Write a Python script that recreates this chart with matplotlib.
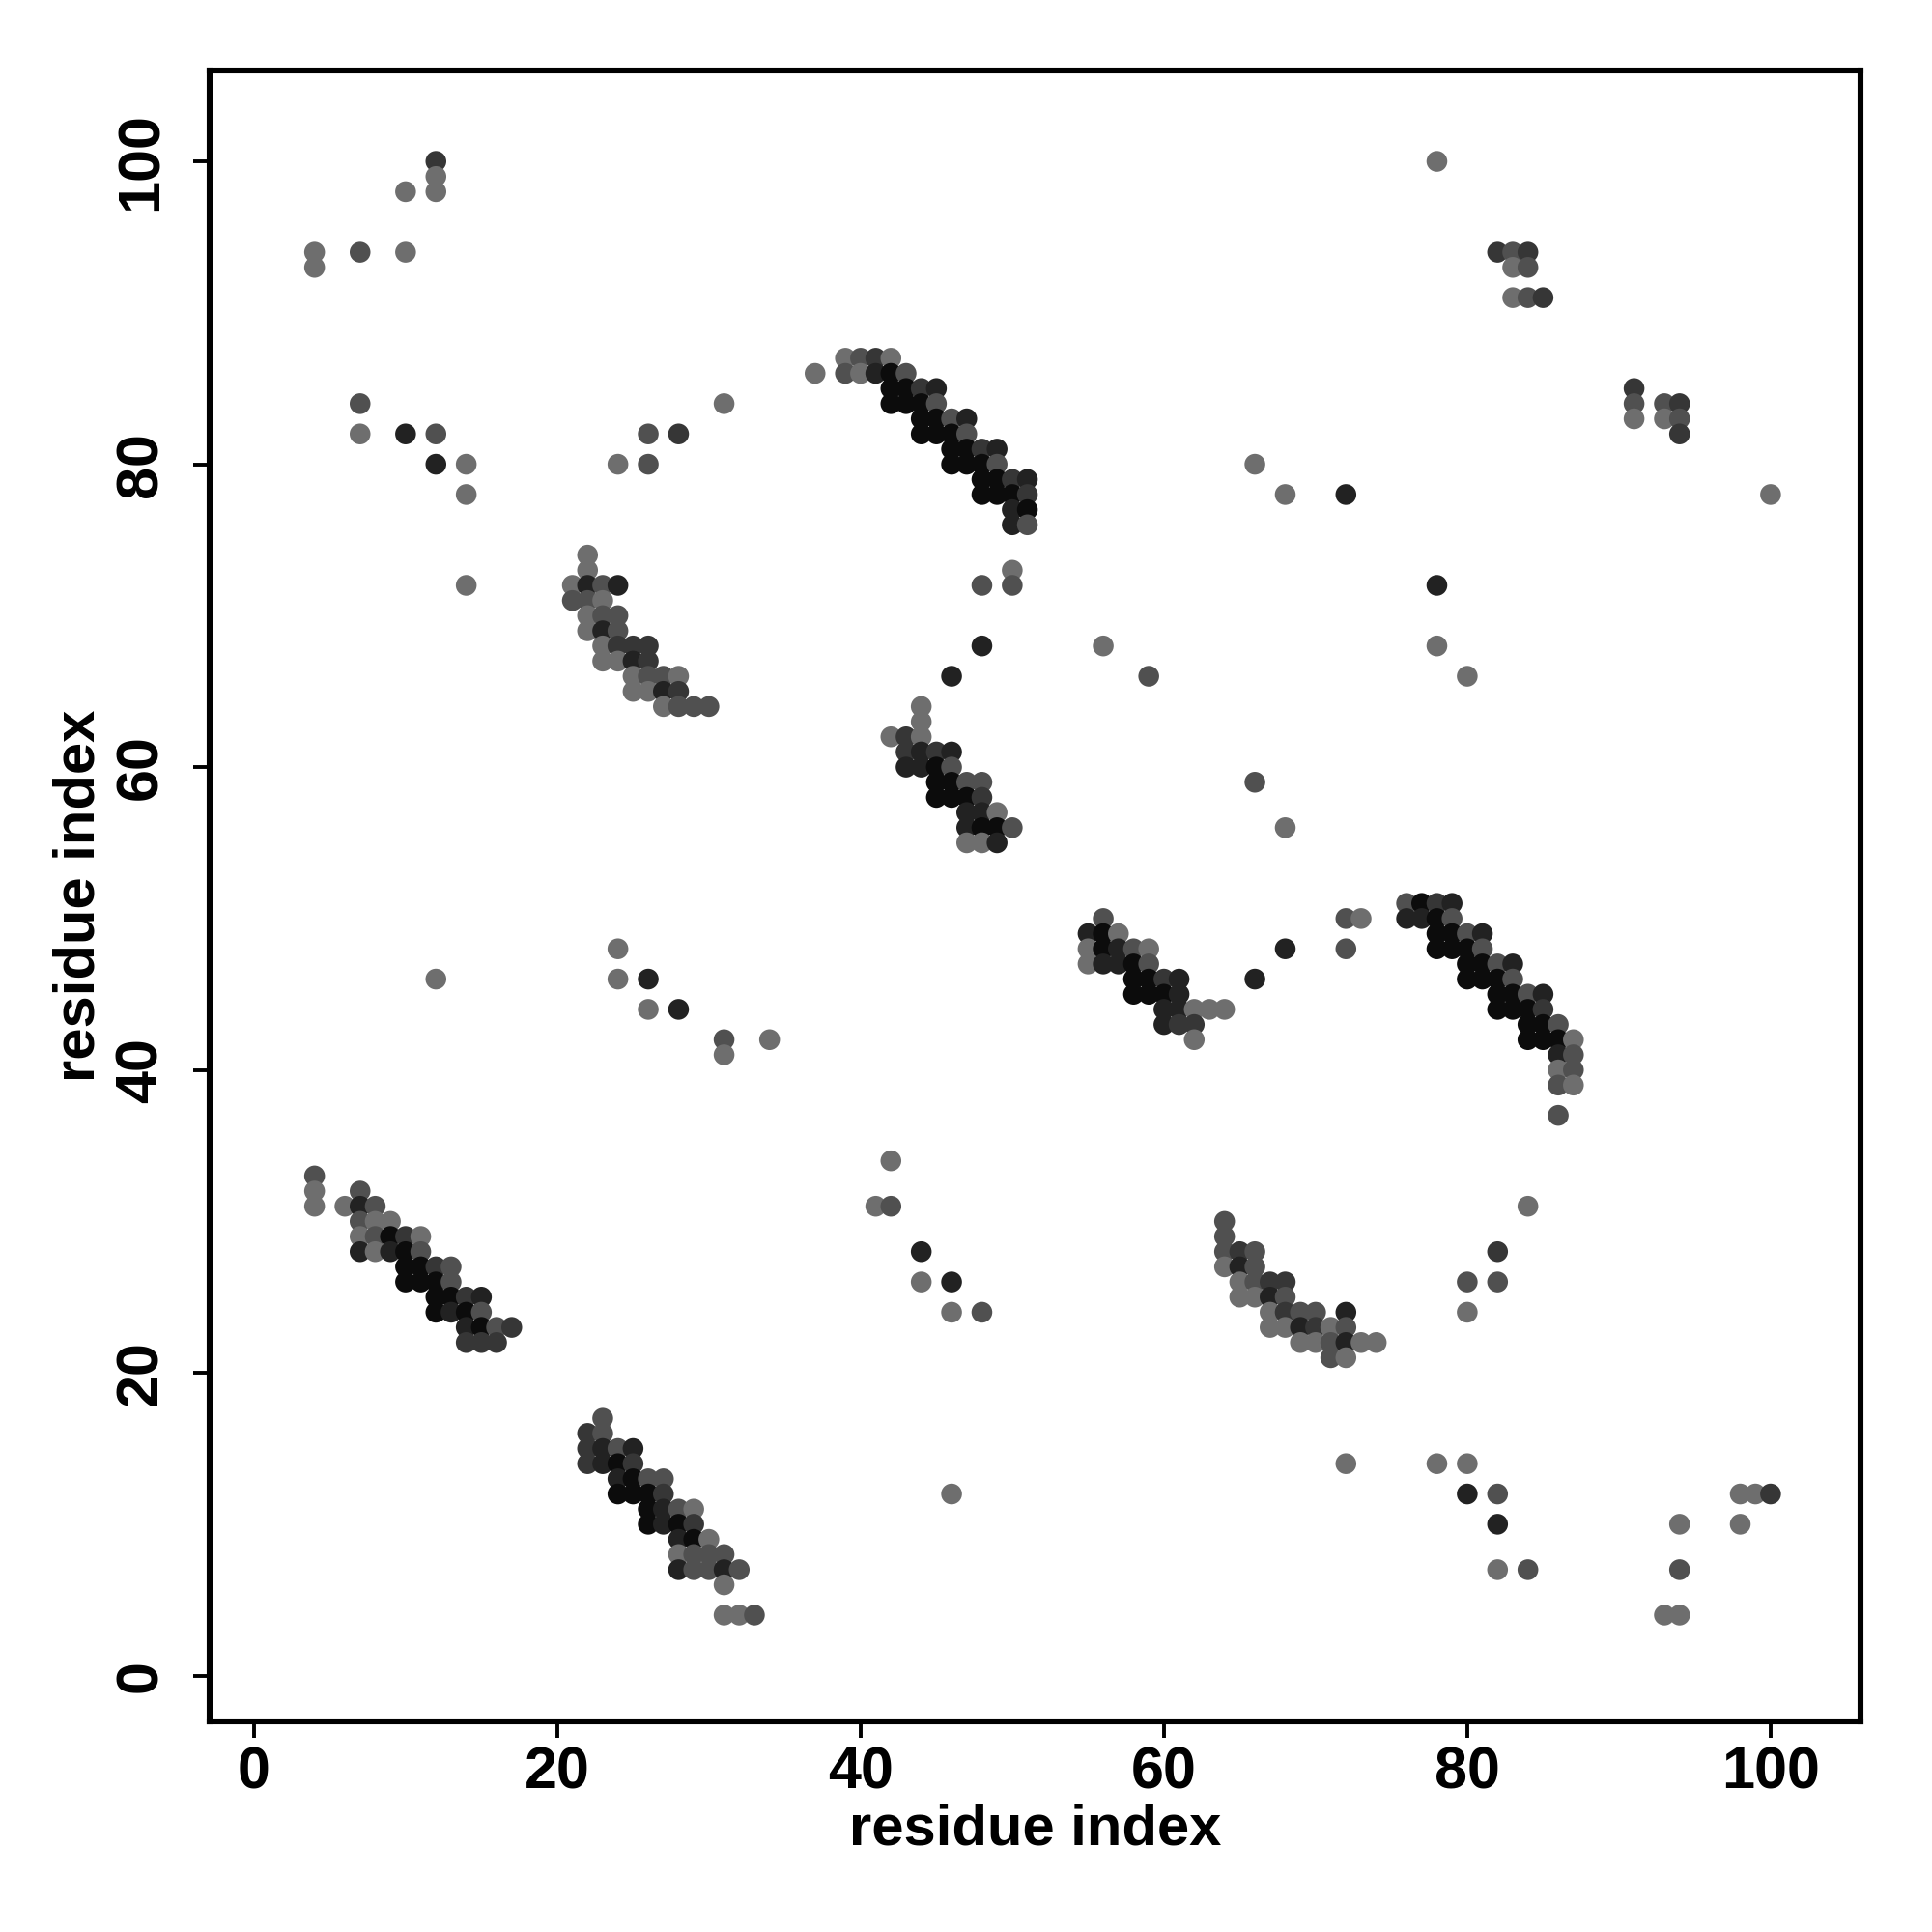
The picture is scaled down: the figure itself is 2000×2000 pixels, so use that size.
import matplotlib
matplotlib.use("Agg")
import matplotlib.pyplot as plt
import numpy as np

# contact map: (residue i, residue j, contact strength 1..5)
scatter_top_left = [
    (4, 94, 1), (4, 93, 1), (7, 94, 2), (10, 98, 1), (10, 94, 1), (12, 100, 3),
    (12, 99, 1), (12, 98, 1), (7, 84, 2), (7, 82, 1), (10, 82, 4), (12, 82, 2),
    (12, 80, 4), (14, 80, 1), (14, 78, 1), (14, 72, 1), (24, 80, 1), (26, 80, 2),
    (26, 82, 2), (28, 82, 3), (31, 84, 1),
]

sheet_a = [
    (39, 87, 1), (40, 87, 2), (41, 87, 3), (42, 87, 1),
    (37, 86, 1), (39, 86, 2), (40, 86, 1), (41, 86, 4), (42, 86, 5), (43, 86, 2),
    (42, 85, 5), (43, 85, 5), (44, 85, 3), (45, 85, 4),
    (42, 84, 5), (43, 84, 5), (44, 84, 5), (45, 84, 2),
    (44, 83, 5), (45, 83, 5), (46, 83, 2), (47, 83, 4),
    (44, 82, 5), (45, 82, 5), (46, 82, 5), (47, 82, 2),
    (46, 81, 5), (47, 81, 5), (48, 81, 3), (49, 81, 4),
    (46, 80, 5), (47, 80, 5), (48, 80, 5), (49, 80, 2),
    (48, 79, 5), (49, 79, 5), (50, 79, 3), (51, 79, 4),
    (48, 78, 5), (49, 78, 5), (50, 78, 5), (51, 78, 3),
    (50, 77, 4), (51, 77, 5), (50, 76, 4), (51, 76, 2),
    (50, 73, 1), (50, 72, 2), (48, 72, 2), (48, 68, 4), (46, 66, 4),
    (56, 68, 1), (59, 66, 2),
]

sheet_b = [
    (22, 74, 1), (22, 73, 1),
    (21, 72, 1), (22, 72, 4), (23, 72, 2), (24, 72, 4),
    (21, 71, 2), (22, 71, 2), (23, 71, 1),
    (22, 70, 1), (23, 70, 2), (24, 70, 2),
    (22, 69, 1), (23, 69, 4), (24, 69, 2),
    (23, 68, 1), (24, 68, 3), (25, 68, 3), (26, 68, 3),
    (23, 67, 1), (24, 67, 1), (25, 67, 4), (26, 67, 3),
    (25, 66, 1), (26, 66, 2), (27, 66, 2), (28, 66, 1),
    (25, 65, 1), (26, 65, 1), (27, 65, 4), (28, 65, 3),
    (27, 64, 1), (28, 64, 2), (29, 64, 2), (30, 64, 2),
]

sheet_c = [
    (44, 64, 1), (44, 63, 1),
    (42, 62, 1), (43, 62, 3), (44, 62, 1),
    (43, 61, 3), (44, 61, 4), (45, 61, 3), (46, 61, 4),
    (43, 60, 4), (44, 60, 4), (45, 60, 5), (46, 60, 2),
    (45, 59, 5), (46, 59, 5), (47, 59, 2), (48, 59, 2),
    (45, 58, 5), (46, 58, 5), (47, 58, 5), (48, 58, 3),
    (47, 57, 4), (48, 57, 4), (49, 57, 1),
    (47, 56, 4), (48, 56, 5), (49, 56, 5), (50, 56, 2),
    (47, 55, 1), (48, 55, 1), (49, 55, 4),
    (66, 59, 2), (68, 56, 1),
]

sheet_d = [
    (56, 50, 2),
    (55, 49, 4), (56, 49, 5), (57, 49, 1),
    (55, 48, 1), (56, 48, 5), (57, 48, 4), (58, 48, 2), (59, 48, 1),
    (55, 47, 1), (56, 47, 4), (57, 47, 4), (58, 47, 5), (59, 47, 2),
    (58, 46, 5), (59, 46, 5), (60, 46, 3), (61, 46, 4),
    (58, 45, 5), (59, 45, 5), (60, 45, 5), (61, 45, 4),
    (60, 44, 4), (61, 44, 4), (62, 44, 1), (63, 44, 1), (64, 44, 1),
    (60, 43, 4), (61, 43, 3), (62, 43, 3),
    (62, 42, 1),
    (66, 46, 4), (68, 48, 4), (72, 50, 2), (73, 50, 1), (72, 48, 2),
]

sheet_e = [
    (76, 51, 2), (77, 51, 5), (78, 51, 3), (79, 51, 4),
    (76, 50, 4), (77, 50, 4), (78, 50, 5), (79, 50, 2),
    (78, 49, 5), (79, 49, 5), (80, 49, 2), (81, 49, 4),
    (78, 48, 5), (79, 48, 5), (80, 48, 5), (81, 48, 2),
    (80, 47, 5), (81, 47, 5), (82, 47, 2), (83, 47, 4),
    (80, 46, 5), (81, 46, 5), (82, 46, 5), (83, 46, 2),
    (82, 45, 5), (83, 45, 5), (84, 45, 2), (85, 45, 4),
    (82, 44, 5), (83, 44, 5), (84, 44, 5), (85, 44, 3),
    (84, 43, 5), (85, 43, 5), (86, 43, 2),
    (84, 42, 5), (85, 42, 5), (86, 42, 5), (87, 42, 1),
    (86, 41, 4), (87, 41, 2), (86, 40, 1), (87, 40, 2),
    (86, 39, 2), (87, 39, 1), (86, 37, 2),
]

sheet_f = [
    (4, 33, 2), (4, 32, 1), (7, 32, 2),
    (4, 31, 1), (6, 31, 1), (7, 31, 4), (8, 31, 2),
    (7, 30, 2), (8, 30, 1), (9, 30, 1),
    (7, 29, 1), (8, 29, 2), (9, 29, 5), (10, 29, 3), (11, 29, 1),
    (7, 28, 4), (8, 28, 1), (9, 28, 4), (10, 28, 5), (11, 28, 2),
    (10, 27, 5), (11, 27, 5), (12, 27, 3), (13, 27, 2),
    (10, 26, 5), (11, 26, 5), (12, 26, 5), (13, 26, 2),
    (12, 25, 5), (13, 25, 5), (14, 25, 3), (15, 25, 4),
    (12, 24, 5), (13, 24, 4), (14, 24, 5), (15, 24, 2),
    (14, 23, 4), (15, 23, 5), (16, 23, 2), (17, 23, 3),
    (14, 22, 3), (15, 22, 3), (16, 22, 3),
]

sheet_g = [
    (23, 17, 2), (22, 16, 3), (23, 16, 2),
    (22, 15, 3), (23, 15, 4), (24, 15, 2), (25, 15, 4),
    (22, 14, 3), (23, 14, 4), (24, 14, 5), (25, 14, 3),
    (24, 13, 4), (25, 13, 5), (26, 13, 2), (27, 13, 2),
    (24, 12, 5), (25, 12, 5), (26, 12, 5), (27, 12, 3),
    (26, 11, 5), (27, 11, 4), (28, 11, 2), (29, 11, 1),
    (26, 10, 5), (27, 10, 4), (28, 10, 5), (29, 10, 3),
    (28, 9, 4), (29, 9, 5), (30, 9, 1),
    (28, 8, 1), (29, 8, 2), (30, 8, 2), (31, 8, 2),
    (28, 7, 4), (29, 7, 2), (30, 7, 2), (31, 7, 4), (32, 7, 2),
    (31, 6, 1), (31, 4, 1), (32, 4, 1), (33, 4, 2),
]

sheet_h = [
    (64, 30, 2), (64, 29, 2),
    (64, 28, 2), (65, 28, 3), (66, 28, 2),
    (64, 27, 1), (65, 27, 4), (66, 27, 2),
    (65, 26, 1), (66, 26, 2), (67, 26, 3), (68, 26, 3),
    (65, 25, 1), (66, 25, 1), (67, 25, 4), (68, 25, 2),
    (67, 24, 1), (68, 24, 3), (69, 24, 2), (70, 24, 2), (72, 24, 4),
    (67, 23, 1), (68, 23, 1), (69, 23, 4), (70, 23, 3), (71, 23, 1), (72, 23, 2),
    (69, 22, 1), (70, 22, 1), (71, 22, 2), (72, 22, 4), (73, 22, 1), (74, 22, 1),
    (71, 21, 2), (72, 21, 1),
]

scatter_lower = [
    (12, 46, 1), (24, 48, 1), (24, 46, 1), (26, 46, 4), (26, 44, 1), (28, 44, 4),
    (31, 42, 2), (31, 41, 1), (34, 42, 1),
    (42, 34, 1), (41, 31, 1), (42, 31, 2), (44, 28, 4), (44, 26, 1), (46, 26, 4),
    (46, 24, 1), (48, 24, 2), (46, 12, 1),
    (84, 31, 1), (82, 28, 3), (80, 26, 2), (82, 26, 2), (80, 24, 1),
    (72, 14, 1), (78, 14, 1), (80, 14, 1), (80, 12, 4), (82, 12, 2), (82, 10, 4),
    (82, 7, 1), (84, 7, 2), (94, 10, 1), (94, 7, 2), (93, 4, 1), (94, 4, 1),
    (98, 12, 1), (99, 12, 1), (100, 12, 3), (98, 10, 1),
]

scatter_top_right = [
    (78, 100, 1), (82, 94, 3), (83, 94, 2), (84, 94, 3), (83, 93, 1), (84, 93, 2),
    (83, 91, 1), (84, 91, 2), (85, 91, 3),
    (91, 85, 3), (91, 84, 2), (93, 84, 2), (94, 84, 3),
    (91, 83, 1), (93, 83, 1), (94, 83, 2), (94, 82, 3),
    (100, 78, 1), (72, 78, 4), (68, 78, 1), (66, 80, 1),
    (78, 72, 4), (78, 68, 1), (80, 66, 1),
]

ticks = [0, 20, 40, 60, 80, 100]

contacts = np.array(scatter_top_left + sheet_a + sheet_b + sheet_c + sheet_d
                    + sheet_e + sheet_f + sheet_g + sheet_h + scatter_lower
                    + scatter_top_right)

# grey shade per strength level
shade = {1: '#6e6e6e', 2: '#505050', 3: '#363636', 4: '#222222', 5: '#0c0c0c'}
colors = [shade[int(s)] for s in contacts[:, 2]]

plt.rcParams['font.family'] = ['Liberation Sans', 'DejaVu Sans']
plt.rcParams['font.weight'] = 'bold'

fig = plt.figure(figsize=(10, 10), dpi=200)
ax = fig.add_axes([0.1085, 0.109, 0.8545, 0.8545])

ax.scatter(contacts[:, 0], contacts[:, 1], s=60, c=colors, linewidths=0)

ax.set_xlim(-2.92, 105.93)
ax.set_ylim(-3.02, 106.0)
ax.set_xticks(ticks)
ax.set_yticks(ticks)
for spine in ax.spines.values():
    spine.set_linewidth(2.2)

ax.tick_params(axis='both', direction='out', length=6, width=1.4, labelsize=22)
ax.tick_params(axis='x', pad=3)
ax.tick_params(axis='y', pad=9)
for lab in ax.get_yticklabels():
    lab.set_rotation(90)
    lab.set_va('center')
    lab.set_fontweight('bold')
for lab in ax.get_xticklabels():
    lab.set_fontweight('bold')

ax.set_xlabel('residue index', fontsize=21.5, fontweight='bold', labelpad=1)
ax.set_ylabel('residue index', fontsize=21.5, fontweight='bold', labelpad=3)

fig.savefig('out.png', dpi=200, facecolor='white')
